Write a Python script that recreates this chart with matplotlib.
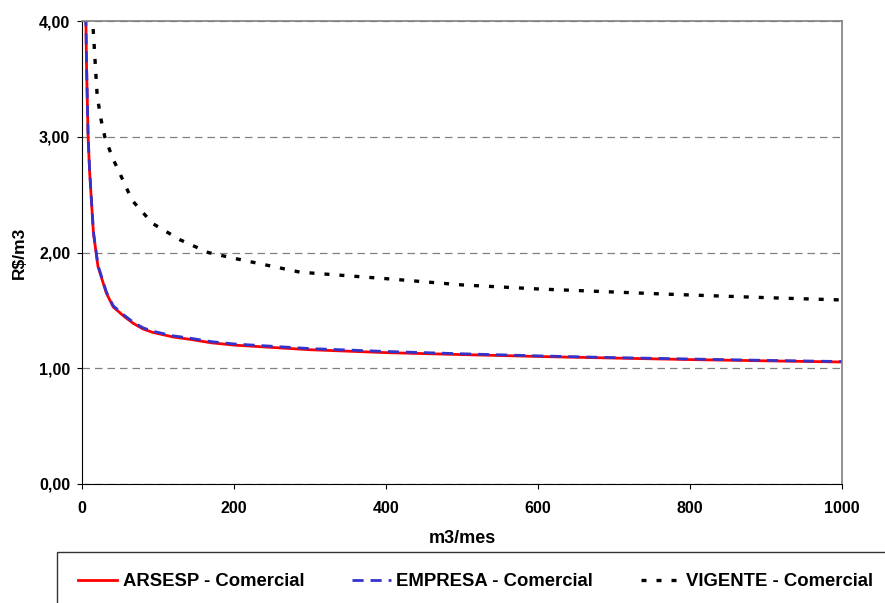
import matplotlib
matplotlib.use("Agg")
import matplotlib.pyplot as plt
from matplotlib.ticker import FuncFormatter

plt.rcParams["font.family"] = ["Liberation Sans", "DejaVu Sans"]
plt.rcParams["font.weight"] = "bold"

# consumo (m3/mes) e tarifa media (R$/m3)
x_arsesp = [5, 6, 8, 10, 15, 21, 32, 41, 55, 67, 80, 93, 120, 142, 170, 200, 250, 300,
            400, 500, 612, 700, 800, 900, 1000]
y_arsesp = [4.05, 3.60, 3.00, 2.70, 2.17, 1.88, 1.65, 1.53, 1.45, 1.39, 1.34, 1.31, 1.27,
            1.25, 1.22, 1.20, 1.18, 1.16, 1.135, 1.118, 1.100, 1.088, 1.075, 1.064, 1.054]

x_empresa = [5, 6, 8, 10, 15, 21, 32, 41, 55, 67, 80, 93, 120, 142, 170, 200, 250, 300,
             400, 500, 612, 700, 800, 900, 1000]
y_empresa = [4.05, 3.62, 3.02, 2.72, 2.18, 1.89, 1.66, 1.54, 1.46, 1.40, 1.35, 1.32, 1.28,
             1.26, 1.23, 1.21, 1.19, 1.17, 1.145, 1.125, 1.105, 1.092, 1.080, 1.068, 1.058]

x_vigente = [13, 14, 16, 20, 25, 30, 40, 50, 66, 93, 129, 166, 200, 287, 408, 500, 600,
             770, 900, 1000]
y_vigente = [4.20, 4.00, 3.79, 3.35, 3.15, 3.00, 2.82, 2.68, 2.45, 2.25, 2.11, 2.00, 1.95,
             1.83, 1.77, 1.72, 1.685, 1.64, 1.61, 1.59]

series_labels = ["ARSESP - Comercial", "EMPRESA - Comercial", "VIGENTE - Comercial"]

fig = plt.figure(figsize=(8.85, 6.03), dpi=100)
ax = fig.add_axes([82 / 885, (603 - 484) / 603, 760 / 885, 463 / 603])

l1, = ax.plot(x_arsesp, y_arsesp, color="#ff0000", lw=2.0, label=series_labels[0])
l2, = ax.plot(x_empresa, y_empresa, color="#3333cc", lw=2.0, ls=(0, (4, 2.5)),
              label=series_labels[1])
l3, = ax.plot(x_vigente, y_vigente, color="black", lw=2.4, ls=(0, (1.5, 3)),
              label=series_labels[2])

ax.set_xlim(0, 1000)
ax.set_ylim(0, 4)
ax.set_xticks([0, 200, 400, 600, 800, 1000])
ax.set_yticks([0, 1, 2, 3, 4])
ax.yaxis.set_major_formatter(FuncFormatter(lambda v, p: f"{v:.2f}".replace(".", ",")))
ax.tick_params(labelsize=11.5, direction="out", length=3.5, color="black")
ax.tick_params(axis="x", pad=9)
ax.tick_params(axis="y", pad=5)
for lab in ax.get_xticklabels() + ax.get_yticklabels():
    lab.set_fontweight("bold")

ax.grid(axis="y", color="#808080", ls=(0, (6, 4)), lw=0.9)
ax.spines["top"].set_color("#808080")
ax.spines["right"].set_color("#808080")
ax.spines["top"].set_linewidth(1.2)
ax.spines["right"].set_linewidth(1.2)

ax.set_xlabel("m3/mes", fontsize=13, fontweight="bold", labelpad=10)
ax.set_ylabel("R\\$/m3", fontsize=12.5, fontweight="bold", labelpad=9)

leg = fig.legend(handles=[l1, l2, l3], loc="upper left", ncol=3,
                 bbox_to_anchor=(57 / 885, 51 / 603),
                 borderaxespad=0, frameon=True, fancybox=False, fontsize=13.3,
                 handlelength=2.1, handletextpad=0.3, borderpad=1.15,
                 columnspacing=2.6)
leg.get_frame().set_edgecolor("black")
leg.get_frame().set_linewidth(1.0)
for t in leg.get_texts():
    t.set_fontweight("bold")

fig.savefig("out.png", dpi=100)
